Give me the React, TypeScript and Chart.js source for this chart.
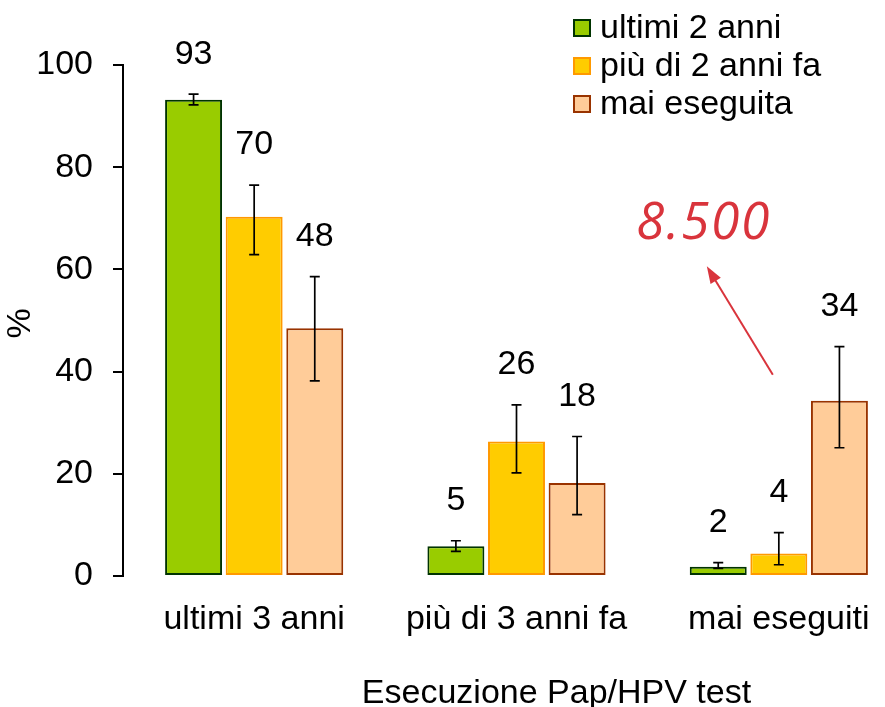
import React, { useEffect, useRef } from "react";
import { Chart, registerables } from "chart.js";

Chart.register(...registerables);

const categories = ["ultimi 3 anni", "più di 3 anni fa", "mai eseguiti"];
const seriesNames = ["ultimi 2 anni", "più di 2 anni fa", "mai eseguita"];

const recentValues = [93.2, 5.8, 1.8];
const olderValues = [70.3, 26.3, 4.4];
const neverValues = [48.5, 18.2, 34.3];

const recentLow = [92.2, 4.8, 1.5];
const recentHigh = [94.3, 6.9, 2.6];
const olderLow = [62.9, 20.2, 2.2];
const olderHigh = [76.5, 33.5, 8.5];
const neverLow = [38.2, 12.0, 25.1];
const neverHigh = [58.6, 27.3, 44.9];

const recentLabels = ["93", "5", "2"];
const olderLabels = ["70", "26", "4"];
const neverLabels = ["48", "18", "34"];

const yTicks = [0, 20, 40, 60, 80, 100];
const annotationText = "8.500";

const fills = ["#99CC00", "#FFCC00", "#FFCC99"];
const borders = ["#003300", "#FF9900", "#993300"];
const FONT = "'Liberation Sans', Arial, sans-serif";
const FS = 34;
const RED = "#D9343C";

const errLows = [recentLow, olderLow, neverLow];
const errHighs = [recentHigh, olderHigh, neverHigh];
const valueLabels = [recentLabels, olderLabels, neverLabels];

const overlayPlugin = {
  id: "overlay",
  afterDatasetsDraw(chart: any) {
    const ctx = chart.ctx;
    const y = chart.scales.y;
    const x = chart.scales.x;
    ctx.save();
    // error bars + value labels
    chart.data.datasets.forEach((_: any, di: number) => {
      const meta = chart.getDatasetMeta(di);
      meta.data.forEach((bar: any, i: number) => {
        const cx = bar.x;
        const yl = y.getPixelForValue(errLows[di][i]);
        const yh = y.getPixelForValue(errHighs[di][i]);
        ctx.strokeStyle = "#000";
        ctx.lineWidth = 1.7;
        ctx.beginPath();
        ctx.moveTo(cx, yl);
        ctx.lineTo(cx, yh);
        ctx.moveTo(cx - 5, yl);
        ctx.lineTo(cx + 5, yl);
        ctx.moveTo(cx - 5, yh);
        ctx.lineTo(cx + 5, yh);
        ctx.stroke();
        ctx.fillStyle = "#000";
        ctx.font = `${FS}px ${FONT}`;
        ctx.textAlign = "center";
        ctx.textBaseline = "middle";
        ctx.fillText(valueLabels[di][i], cx, yh - 40);
      });
    });
    // legend
    const lx = 573;
    const rows = [28, 66, 104];
    seriesNames.forEach((name, i) => {
      ctx.fillStyle = fills[i];
      ctx.fillRect(lx, rows[i] - 9, 18, 18);
      ctx.strokeStyle = borders[i];
      ctx.lineWidth = 2;
      ctx.strokeRect(lx + 1, rows[i] - 8, 16, 16);
      ctx.fillStyle = "#000";
      ctx.font = `${FS}px ${FONT}`;
      ctx.textAlign = "left";
      ctx.textBaseline = "middle";
      ctx.fillText(name, lx + 27, rows[i] + 1);
    });
    // axis titles
    const area = chart.chartArea;
    ctx.fillStyle = "#000";
    ctx.font = `${FS}px ${FONT}`;
    ctx.textAlign = "center";
    ctx.textBaseline = "middle";
    ctx.fillText("Esecuzione Pap/HPV test", x.getPixelForValue(1) + 40, 694);
    ctx.save();
    ctx.translate(21, (area.top + area.bottom) / 2 + 3);
    ctx.rotate(-Math.PI / 2);
    ctx.fillText("%", 0, 0);
    ctx.restore();
    // annotation arrow
    const c2 = x.getPixelForValue(2);
    const sx = c2 - 6;
    const sy = y.getPixelForValue(39.4);
    const tx = c2 - 72;
    const ty = y.getPixelForValue(60.6);
    const ang = Math.atan2(ty - sy, tx - sx);
    const head = 17;
    ctx.strokeStyle = RED;
    ctx.fillStyle = RED;
    ctx.lineWidth = 2;
    ctx.beginPath();
    ctx.moveTo(sx, sy);
    ctx.lineTo(tx - head * 0.8 * Math.cos(ang), ty - head * 0.8 * Math.sin(ang));
    ctx.stroke();
    ctx.beginPath();
    ctx.moveTo(tx, ty);
    ctx.lineTo(tx - head * Math.cos(ang) + 6 * Math.sin(ang), ty - head * Math.sin(ang) - 6 * Math.cos(ang));
    ctx.lineTo(tx - head * Math.cos(ang) - 6 * Math.sin(ang), ty - head * Math.sin(ang) + 6 * Math.cos(ang));
    ctx.closePath();
    ctx.fill();
    ctx.font = `italic 51px 'Open Sans', sans-serif`;
    (ctx as any).letterSpacing = "2px";
    ctx.textAlign = "center";
    ctx.textBaseline = "middle";
    ctx.fillText(annotationText, c2 - 75, y.getPixelForValue(68.8));
    ctx.restore();
  },
};

export default function App() {
  const ref = useRef<HTMLCanvasElement | null>(null);
  useEffect(() => {
    if (!ref.current) return;
    const chart = new Chart(ref.current, {
      type: "bar",
      data: {
        labels: categories,
        datasets: [recentValues, olderValues, neverValues].map((d, i) => ({
          label: seriesNames[i],
          data: d,
          backgroundColor: fills[i],
          borderColor: borders[i],
          borderWidth: 2,
          borderSkipped: false,
          categoryPercentage: 0.693,
          barPercentage: 0.94,
        })),
      },
      options: {
        animation: false,
        responsive: false,
        events: [],
        layout: { padding: { top: 65, right: 20, left: 0, bottom: 0 } },
        plugins: { legend: { display: false }, tooltip: { enabled: false } },
        scales: {
          x: {
            grid: { display: false },
            border: { display: false },
            ticks: { color: "#000", font: { family: FONT, size: FS }, padding: 15, maxRotation: 0, autoSkip: false },
            afterFit: (s: any) => {
              s.height = 131;
            },
          },
          y: {
            min: 0,
            max: 100,
            afterBuildTicks: (s: any) => {
              s.ticks = yTicks.map((v) => ({ value: v }));
            },
            grid: { drawOnChartArea: false, drawTicks: true, tickLength: 10, color: "#000", lineWidth: 2 },
            border: { display: true, color: "#000", width: 2 },
            ticks: { color: "#000", font: { family: FONT, size: FS }, padding: 20 },
            afterFit: (s: any) => {
              s.width = 123;
            },
          },
        },
      },
      plugins: [overlayPlugin],
    });
    return () => chart.destroy();
  }, []);
  return (
    <div style={{ position: "fixed", left: 0, top: 0, width: 885, height: 707, overflow: "hidden", background: "#fff" }}>
      <canvas ref={ref} width={930} height={707} style={{ width: 930, height: 707, display: "block" }} />
    </div>
  );
}
